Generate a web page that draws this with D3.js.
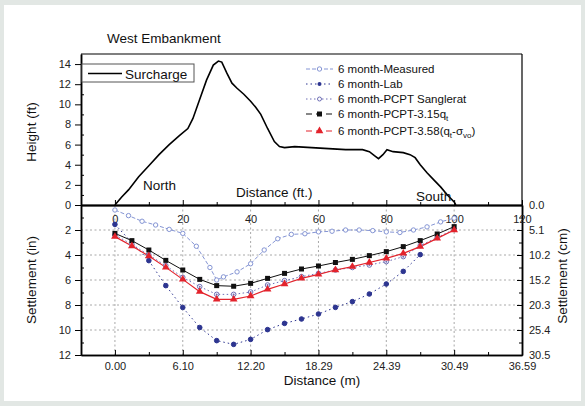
<!DOCTYPE html>
<html><head><meta charset="utf-8">
<script src="https://cdn.jsdelivr.net/npm/d3@7"></script>
<style>
body{margin:0;background:#e2e7e4;}
svg{display:block;font-family:"Liberation Sans",Arial,sans-serif;}
.axis text{font-size:11px;fill:#222;}
.axis path,.axis line{stroke:#000;}
</style></head>
<body><svg id="c" width="585" height="406"></svg>
<script>
// ---- data ----
const surchargeX = [0,2,4,7,10,13,16,19,21.5,23,25,27,29,30.5,31.5,33,34.5,36,38,40,41.5,43,45,47,48.5,50,53,58,63,68,73,75,76.5,77.7,79,80.2,82,85,87,88.5,90,92,94,96,98,100,100.5];
const surchargeH = [0,0.8,1.5,2.8,3.9,5.0,6.0,6.9,7.6,8.6,10.5,12.4,13.9,14.3,14.2,13.1,12.1,11.6,11.0,10.3,9.7,9.0,7.6,6.3,5.8,5.7,5.8,5.7,5.6,5.5,5.5,5.3,4.9,4.6,5.0,5.5,5.3,5.2,5.0,4.7,4.0,3.2,2.5,1.8,1.0,0.3,0];

const measuredX = [0,4,8,12,16,20,24,28,30,32,36,40,44,48,52,56,60,64,68,72,76,80,84,88,92,96,100];
const measuredS = [0.4,0.85,1.3,1.6,1.95,2.27,3.3,5.0,6.0,5.75,5.35,4.7,3.6,2.7,2.35,2.3,2.15,2.1,2.0,2.0,2.05,2.15,2.2,2.0,1.75,1.35,1.05];

const labX = [0,10,15,20,25,30,35,40,45,50,55,60,65,70,75,80,85,90];
const labS = [1.55,4.45,6.45,8.2,9.8,10.85,11.15,10.75,9.97,9.47,9.12,8.72,8.19,7.73,7.12,6.32,5.31,3.97];

const pcptX = [0,5,10,15,20,25,30,35,40,45,50,55,60,65,70,75,80,85,90,95,100];
const sanglS = [2.4,3.15,4.0,4.85,5.79,6.53,7.15,7.15,6.96,6.4,6.05,5.73,5.47,5.2,5.0,4.8,4.53,4.13,3.25,2.6,1.95];
const pcpt315S = [2.27,2.85,3.6,4.43,5.2,5.95,6.45,6.5,6.27,5.87,5.47,5.12,4.88,4.6,4.35,4.05,3.73,3.33,2.85,2.32,1.73];
const pcpt358S = [2.53,3.28,4.08,4.99,5.95,6.93,7.55,7.55,7.28,6.75,6.32,5.87,5.55,5.2,4.93,4.6,4.27,3.87,3.33,2.67,2.0];

const ftTicks = [0,20,40,60,80,100,120];
const mTickLabels = ["0.00","6.10","12.20","18.29","24.39","30.49","36.59"];
const heightTicks = [0,2,4,6,8,10,12,14];
const settleTicks = [2,4,6,8,10,12];
const cmTicks = [0,2,4,6,8,10,12];
const cmTickLabels = ["0.0","5.1","10.2","15.2","20.3","25.4","30.5"];

// ---- layout ----
const svg = d3.select("#c");
svg.append("rect").attr("x",4).attr("y",5).attr("width",577).attr("height",396).attr("fill","#fff");

const L=81,R=522,T=54,M=205,B=355;
const x = d3.scaleLinear().domain([-10,120]).range([L,R]);
const yH = d3.scaleLinear().domain([0,15]).range([M,T]);
const yS = d3.scaleLinear().domain([0,12]).range([M,B]);

// grid
const grid = svg.append("g").attr("stroke","#a8a8a8").attr("stroke-width",1).attr("stroke-dasharray","2,2.5");
[2,4,6,8,10].forEach(v=>grid.append("line").attr("x1",L).attr("x2",R).attr("y1",yS(v)).attr("y2",yS(v)));
[0,20,40,60,80,100].forEach(v=>grid.append("line").attr("x1",x(v)).attr("x2",x(v)).attr("y1",M).attr("y2",B));

// frame
svg.append("line").attr("x1",L).attr("x2",R).attr("y1",T).attr("y2",T).attr("stroke","#000").attr("stroke-width",1.2);
svg.append("line").attr("x1",R).attr("x2",R).attr("y1",T).attr("y2",M).attr("stroke","#000").attr("stroke-width",1.2);

// left axes
svg.append("g").attr("class","axis").attr("transform",`translate(${L},0)`)
  .call(d3.axisLeft(yH).tickValues(heightTicks).tickSizeInner(6).tickSizeOuter(0).tickPadding(4).tickFormat(d3.format("d")));
svg.append("g").attr("class","axis").attr("transform",`translate(${L},0)`)
  .call(d3.axisLeft(yH).tickValues([1,3,5,7,9,11,13]).tickSizeInner(-3).tickSizeOuter(0).tickFormat(""));
svg.append("g").attr("class","axis").attr("transform",`translate(${L},0)`)
  .call(d3.axisLeft(yS).tickValues(settleTicks).tickSizeInner(6).tickSizeOuter(0).tickPadding(4).tickFormat(d3.format("d")));
svg.append("g").attr("class","axis").attr("transform",`translate(${L},0)`)
  .call(d3.axisLeft(yS).tickValues([1,3,5,7,9,11]).tickSizeInner(-3).tickSizeOuter(0).tickFormat(""));

// right axis (cm)
svg.append("g").attr("class","axis").attr("transform",`translate(${R},0)`)
  .call(d3.axisRight(yS).tickValues(cmTicks).tickSizeInner(-5).tickSizeOuter(0).tickPadding(7).tickFormat((d,i)=>cmTickLabels[i]));
svg.append("g").attr("class","axis").attr("transform",`translate(${R},0)`)
  .call(d3.axisRight(yS).tickValues([1,3,5,7,9,11]).tickSizeInner(-3).tickSizeOuter(0).tickFormat(""));

// middle axis (ft)
const mid = svg.append("g").attr("class","axis").attr("transform",`translate(0,${M})`)
  .call(d3.axisBottom(x).tickValues(ftTicks).tickSizeInner(-5).tickSizeOuter(0).tickPadding(10).tickFormat(d3.format("d")));
svg.append("g").attr("class","axis").attr("transform",`translate(0,${M})`)
  .call(d3.axisBottom(x).tickValues([10,30,50,70,90,110]).tickSizeInner(-3).tickSizeOuter(0).tickFormat(""));
mid.select(".domain").attr("stroke-width",2);

// bottom axis (m)
svg.append("g").attr("class","axis").attr("transform",`translate(0,${B})`)
  .call(d3.axisBottom(x).tickValues(ftTicks).tickSizeInner(-5).tickSizeOuter(0).tickPadding(7).tickFormat((d,i)=>mTickLabels[i]));
svg.append("g").attr("class","axis").attr("transform",`translate(0,${B})`)
  .call(d3.axisBottom(x).tickValues([-10,10,30,50,70,90,110]).tickSizeInner(-3).tickSizeOuter(0).tickFormat(""));
svg.selectAll(".axis .domain").attr("stroke-width",1.5);
mid.select(".domain").attr("stroke-width",2);

// surcharge
svg.append("path").datum(surchargeX.map((d,i)=>[d,surchargeH[i]]))
  .attr("fill","none").attr("stroke","#000").attr("stroke-width",1.6)
  .attr("d",d3.line().x(d=>x(d[0])).y(d=>yH(d[1])));

// settlement series
const cMeas="#8595d4", cLab="#2d3590", cSang="#6f6fb5", cBlk="#111", cRed="#e3232c";
function series(xs,ys,color,dash,w){
  svg.append("path").datum(xs.map((d,i)=>[d,ys[i]])).attr("fill","none").attr("stroke",color)
   .attr("stroke-width",w).attr("stroke-dasharray",dash)
   .attr("d",d3.line().x(d=>x(d[0])).y(d=>yS(d[1])));
}
series(measuredX,measuredS,cMeas,"4,2",1);
series(labX,labS,cLab,"1.5,3",1);
series(pcptX,sanglS,cSang,"1.5,2.5",1);
series(pcptX,pcpt315S,cBlk,null,1);
series(pcptX,pcpt358S,cRed,null,1.2);

function circles(xs,ys,color,fill,r){
  svg.append("g").selectAll("circle").data(xs.map((d,i)=>[d,ys[i]])).join("circle")
   .attr("cx",d=>x(d[0])).attr("cy",d=>yS(d[1])).attr("r",r)
   .attr("fill",fill).attr("stroke",color).attr("stroke-width",1);
}
circles(measuredX,measuredS,cMeas,"#fff",2.2);
circles(labX,labS,cLab,cLab,2.3);
circles(pcptX,sanglS,cSang,"#fff",2.3);
svg.append("g").selectAll("circle").data(pcptX.map((d,i)=>[d,sanglS[i]])).join("circle")
  .attr("cx",d=>x(d[0])).attr("cy",d=>yS(d[1])).attr("r",1).attr("fill",cSang);
svg.append("g").selectAll("rect").data(pcptX.map((d,i)=>[d,pcpt315S[i]])).join("rect")
  .attr("x",d=>x(d[0])-2.5).attr("y",d=>yS(d[1])-2.5).attr("width",5).attr("height",5).attr("fill",cBlk);
const tri = d3.symbol().type(d3.symbolTriangle).size(26);
svg.append("g").selectAll("path").data(pcptX.map((d,i)=>[d,pcpt358S[i]])).join("path")
  .attr("transform",d=>`translate(${x(d[0])},${yS(d[1])})`).attr("d",tri).attr("fill",cRed);

// texts
const txt=(s,xx,yy,size,anchor)=>svg.append("text").attr("x",xx).attr("y",yy).attr("font-size",size).attr("text-anchor",anchor||"start").attr("fill","#111").text(s);
txt("West Embankment",107,43,13.5);
txt("North",143,190,13.5);
txt("Distance (ft.)",236,197,13.5);
txt("South",416,201,13.5);
txt("Distance (m)",322,385,13.5,"middle");
svg.append("text").attr("transform","translate(36,132) rotate(-90)").attr("text-anchor","middle").attr("font-size",13.5).attr("fill","#111").text("Height (ft)");
svg.append("text").attr("transform","translate(36,280) rotate(-90)").attr("text-anchor","middle").attr("font-size",13.5).attr("fill","#111").text("Settlement (in)");
svg.append("text").attr("transform","translate(567,276) rotate(-90)").attr("text-anchor","middle").attr("font-size",13.5).attr("fill","#111").text("Settlement (cm)");

// surcharge legend
svg.append("rect").attr("x",82).attr("y",64).attr("width",112).attr("height",18).attr("fill","#fff").attr("stroke","#555").attr("stroke-width",1);
svg.append("line").attr("x1",88).attr("x2",122).attr("y1",73.5).attr("y2",73.5).attr("stroke","#000").attr("stroke-width",1.6);
txt("Surcharge",125,78.5,13.5);

// series legend
const lg = svg.append("g");
const rows=[69,84,99,114,131];
const lx1=306,lx2=333,lm=319.5,ltx=338;
function lline(y,color,dash,w){lg.append("line").attr("x1",lx1).attr("x2",lx2).attr("y1",y).attr("y2",y).attr("stroke",color).attr("stroke-dasharray",dash).attr("stroke-width",w);}
lline(rows[0],cMeas,"4,2",1);
lg.append("circle").attr("cx",lm).attr("cy",rows[0]).attr("r",2.2).attr("fill","#fff").attr("stroke",cMeas);
lline(rows[1],cLab,"1.5,3",1);
lg.append("circle").attr("cx",lm).attr("cy",rows[1]).attr("r",2).attr("fill",cLab);
lline(rows[2],cSang,"1.5,2.5",1);
lg.append("circle").attr("cx",lm).attr("cy",rows[2]).attr("r",2).attr("fill","#fff").attr("stroke",cSang);
lline(rows[3],cBlk,"6,4",1.2);
lg.append("rect").attr("x",lm-2.5).attr("y",rows[3]-2.5).attr("width",5).attr("height",5).attr("fill",cBlk);
lline(rows[4],cRed,"6,4",1.2);
lg.append("path").attr("transform",`translate(${lm},${rows[4]})`).attr("d",tri).attr("fill",cRed);
const ltxt=(y)=>lg.append("text").attr("x",ltx).attr("y",y+4).attr("font-size",11.5).attr("fill","#111");
ltxt(rows[0]).text("6 month-Measured");
ltxt(rows[1]).text("6 month-Lab");
ltxt(rows[2]).text("6 month-PCPT Sanglerat");
const t4=ltxt(rows[3]); t4.append("tspan").text("6 month-PCPT-3.15q"); t4.append("tspan").attr("font-size",8).attr("dy",3).text("t");
const t5=ltxt(rows[4]); t5.append("tspan").text("6 month-PCPT-3.58(q"); t5.append("tspan").attr("font-size",8).attr("dy",3).text("t");
t5.append("tspan").attr("dy",-3).text("-σ"); t5.append("tspan").attr("font-size",8).attr("dy",3).text("vo"); t5.append("tspan").attr("dy",-3).text(")");
</script></body></html>
